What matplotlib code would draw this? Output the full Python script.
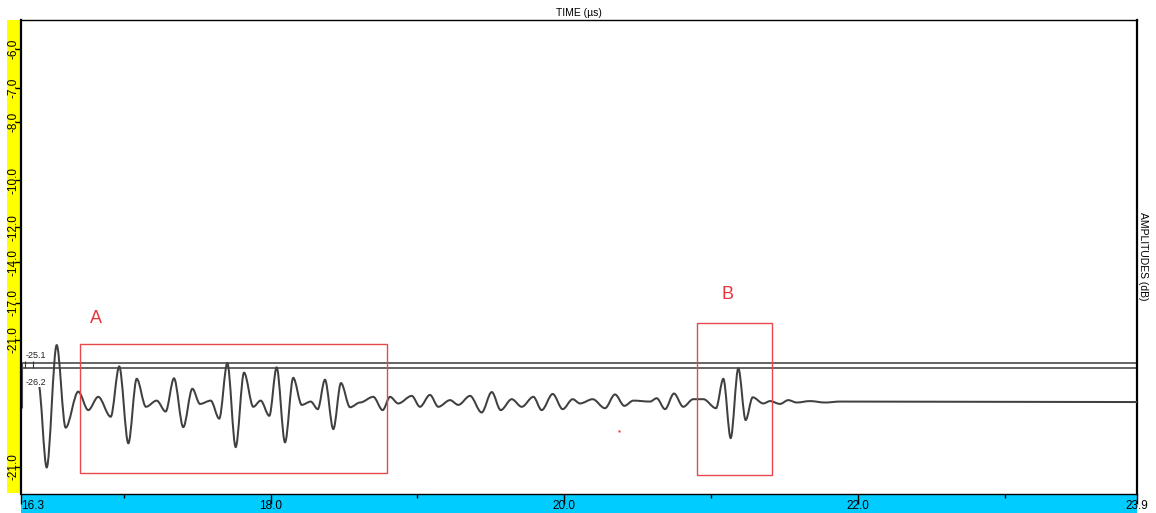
import matplotlib
matplotlib.use("Agg")
import matplotlib.pyplot as plt
from matplotlib.path import Path
from matplotlib.patches import PathPatch, Rectangle

plt.rcParams['font.family'] = ['Liberation Sans', 'DejaVu Sans']

# waveform turning points: time (µs) and screen amplitude (% of full scale)
wave_t = [16.419, 16.475, 16.543, 16.604, 16.690, 16.758, 16.826, 16.911, 16.969,
          17.031, 17.088, 17.151, 17.224, 17.285, 17.342, 17.405, 17.467, 17.519,
          17.592, 17.650, 17.705, 17.762, 17.819, 17.882, 17.932, 17.991, 18.041,
          18.098, 18.154, 18.212, 18.273, 18.321, 18.370, 18.427, 18.479, 18.541,
          18.609, 18.699, 18.763, 18.813, 18.869, 18.961, 19.017, 19.085, 19.142,
          19.222, 19.278, 19.358, 19.437, 19.506, 19.567, 19.642, 19.710, 19.789,
          19.846, 19.921, 19.989, 20.057, 20.107, 20.193, 20.277, 20.345, 20.409,
          20.470, 20.584, 20.629, 20.686, 20.747, 20.810, 20.878, 20.947, 21.033,
          21.083, 21.133, 21.185, 21.235, 21.283, 21.355, 21.401, 21.469, 21.525,
          21.583, 21.673, 21.775, 21.878, 23.900]
wave_a = [23.2, 5.6, 31.4, 14.0, 21.6, 17.7, 20.5, 16.3, 26.9,
          10.7, 24.3, 18.4, 19.7, 17.4, 24.4, 14.1, 22.2, 19.0,
          19.7, 15.9, 27.6, 9.9, 25.6, 18.4, 19.7, 16.5, 26.7,
          10.9, 24.5, 18.8, 19.5, 17.9, 24.1, 13.7, 23.4, 18.3,
          19.3, 20.5, 17.7, 20.5, 19.1, 20.7, 18.4, 20.9, 18.4,
          19.8, 18.8, 20.7, 17.2, 21.5, 17.7, 20.0, 18.4, 20.5,
          17.7, 21.1, 17.9, 20.0, 19.1, 20.0, 18.1, 21.0, 18.6,
          19.7, 19.5, 20.2, 17.9, 21.2, 18.4, 20.0, 20.0, 18.1,
          24.3, 11.8, 26.5, 15.6, 20.4, 19.1, 19.6, 19.0, 19.8,
          19.3, 19.6, 19.3, 19.5, 19.4]

# dB scale ticks
db_pos = [93.9, 85.7, 78.5, 66.2, 56.3, 48.9, 40.3, 32.5, 5.7]
db_labels = ['-6.0', '-7.0', '-8.0', '-10.0', '-12.0', '-14.0', '-17.0', '-21.0', '-21.0']

time_major = [16.3, 18.0, 20.0, 22.0, 23.9]
time_labels = ['16.3', '18.0', '20.0', '22.0', '23.9']
time_minor = [17.0, 19.0, 21.0, 23.0]

# gate levels
gate_levels = [27.6, 26.6]
gate_labels = ['-25.1', '-26.2']

# marked zones (t0, t1, a0, a1) and their letters
zone_names = ['A', 'B']
zone_t0 = [16.702, 20.906]
zone_t1 = [18.790, 21.416]
zone_a0 = [4.4, 4.0]
zone_a1 = [31.7, 36.0]
name_t = [16.811, 21.108]
name_a = [37.1, 42.0]

fig = plt.figure(figsize=(11.56, 5.13), dpi=100)
W, H = 1156, 513
ax = fig.add_axes([21 / W, 19 / H, 1116 / W, 474 / H])

# coloured strips along the axes
fig.add_artist(Rectangle((7 / W, 20 / H), 14 / W, 473 / H, transform=fig.transFigure,
                         facecolor='#ffff00', edgecolor='none', zorder=0))
fig.add_artist(Rectangle((21 / W, 0), 1116 / W, 19 / H, transform=fig.transFigure,
                         facecolor='#00ccff', edgecolor='none', zorder=0))

ax.set_xlim(16.3, 23.9)
ax.set_ylim(0, 100)

# smooth trace: cubic segments with flat tangents at each turning point
verts = [(wave_t[0], wave_a[0])]
codes = [Path.MOVETO]
for i in range(1, len(wave_t)):
    t0, a0 = wave_t[i - 1], wave_a[i - 1]
    t1, a1 = wave_t[i], wave_a[i]
    dt = t1 - t0
    verts += [(t0 + dt / 3, a0), (t0 + 2 * dt / 3, a1), (t1, a1)]
    codes += [Path.CURVE4] * 3
ax.add_patch(PathPatch(Path(verts, codes), facecolor='none', edgecolor='#404040',
                       lw=1.45, zorder=3))

# gates
for lv in gate_levels:
    ax.axhline(lv, color='#3a3a3a', lw=1.1, zorder=2)
ax.vlines([16.307], 18.1, 27.6, color='#555555', lw=0.8)
ax.vlines([16.327, 16.382], 26.6, 28.1, color='#333333', lw=0.8)
ax.text(16.334, 29.3, gate_labels[0], fontsize=6.5, va='center', ha='left', color='#222222',
        bbox=dict(facecolor='white', edgecolor='none', pad=0.3), zorder=4)
ax.text(16.334, 23.6, gate_labels[1], fontsize=6.5, va='center', ha='left', color='#222222',
        bbox=dict(facecolor='white', edgecolor='none', pad=0.3), zorder=4)

# zones
for name, t0, t1, a0, a1, nt, na in zip(zone_names, zone_t0, zone_t1, zone_a0, zone_a1,
                                        name_t, name_a):
    ax.add_patch(Rectangle((t0, a0), t1 - t0, a1 - a0, facecolor='none',
                           edgecolor='#e8484c', lw=1.0, zorder=5))
    ax.text(nt, na, name, color='#e8343c', fontsize=13, ha='center', va='center')
ax.plot([20.372], [13.3], marker='s', ms=1.5, color='#e83030', mec='none')

# axes styling
for side in ['left', 'right']:
    ax.spines[side].set_linewidth(1.6)
for side in ['top', 'bottom']:
    ax.spines[side].set_linewidth(1.0)
for s in ax.spines.values():
    s.set_color('black')

ax.set_yticks(db_pos, db_labels)
ax.tick_params(axis='y', direction='out', length=4, width=1, pad=-3, labelsize=8.5,
               labelrotation=90)
for lab in ax.get_yticklabels():
    lab.set_va('center')

ax.set_xticks(time_major, time_labels)
ax.set_xticks(time_minor, minor=True)
ax.tick_params(axis='x', which='major', direction='out', length=7, width=1, pad=-3,
               labelsize=8.5)
ax.tick_params(axis='x', which='minor', direction='out', length=3, width=1)
ax.get_xticklabels()[0].set_ha('left')

fig.text(579 / W, 1 - 13 / H, 'TIME (µs)', ha='center', va='center', fontsize=7.5)
fig.text(1143 / W, 1 - 256 / H, 'AMPLITUDES (dB)', ha='center', va='center',
         fontsize=7.5, rotation=-90)

fig.savefig('out.png', dpi=100)
